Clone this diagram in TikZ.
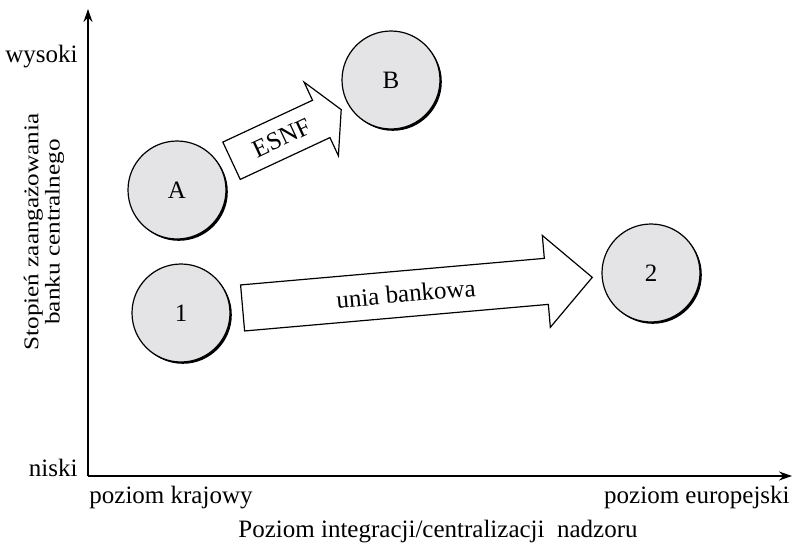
\documentclass[tikz,border=0pt]{standalone}
\usepackage{fontspec}
\setmainfont{Liberation Serif}
\newfontfamily\ylabelfont{Liberation Serif}[FakeStretch=1.2]
\usetikzlibrary{shapes.arrows,shadows,arrows.meta}
\definecolor{circlegray}{RGB}{228,228,230}

\begin{document}
\begin{tikzpicture}[x=0.5pt,y=-0.5pt,font=\fontsize{12.5}{15}\selectfont,
  stage/.style={circle,draw,line width=0.6pt,fill=circlegray,minimum size=49pt,inner sep=0pt,
    drop shadow={shadow xshift=0.9pt,shadow yshift=-0.9pt,opacity=1,fill=black}},
  move/.style={single arrow,draw,fill=white,line width=0.6pt,text height=8.5pt,text depth=0pt,inner xsep=2pt},
  axislabel/.style={inner sep=0pt}]
\useasboundingbox (0,0) rectangle (793,542);
% axes
\coordinate (O) at (88,476);
\coordinate (ytop) at (88,9);
\coordinate (xend) at (792,476);
\draw[line width=0.7pt,-{Stealth[length=6.5pt,width=4.5pt]}] (O) -- (ytop);
\draw[line width=0.7pt,-{Stealth[length=6.5pt,width=4.5pt]}] (O) -- (xend);
\node (high) [axislabel,anchor=base east] at (78,62) {wysoki};
\node (low) [axislabel,anchor=base east] at (78,476) {niski};
\node (national) [axislabel,anchor=base west] at (89,503) {poziom krajowy};
\node (european) [axislabel,anchor=base east] at (790,503) {poziom europejski};
\node (xlabel) [axislabel,anchor=base] at (438,537) {Poziom integracji/centralizacji\ \ nadzoru};
\node (ylabel) [axislabel,rotate=90,align=center,font=\ylabelfont\fontsize{10.5}{9.5}\selectfont] at (44,232) {Stopień zaangażowania\\banku centralnego};
% stages
\node (A) [stage] at (177,190) {A};
\node (B) [stage] at (391,80) {B};
\node (one) [stage] at (181,313) {1};
\node (two) [stage] at (651,273) {2};
% shifts
\node (esnf) [move,rotate=25,minimum height=60.5pt,inner ysep=5.75pt,single arrow head extend=10pt,single arrow tip angle=123,anchor=tail] at (231,161) {ESNF};
\node (union) [move,rotate=5,minimum height=175.5pt,inner ysep=7pt,single arrow head extend=11.5pt,anchor=tail] at (242,308) {unia bankowa};
\end{tikzpicture}
\end{document}
